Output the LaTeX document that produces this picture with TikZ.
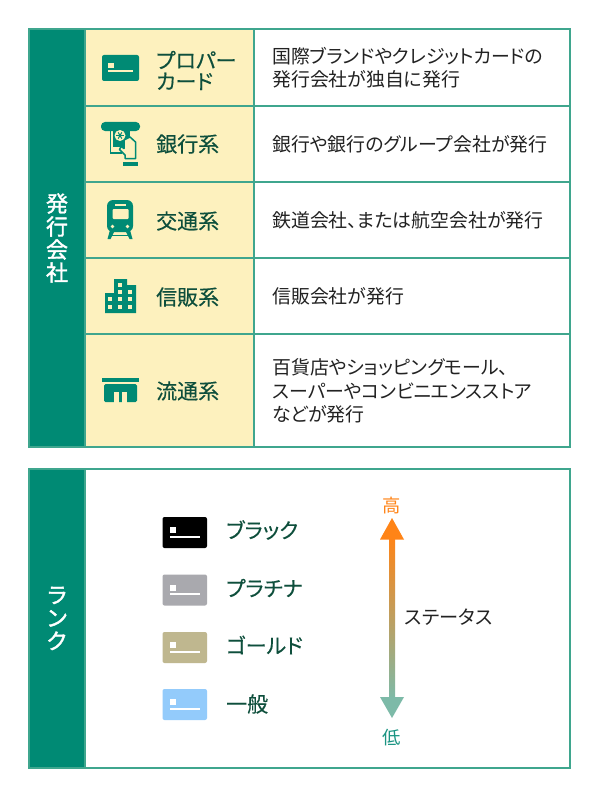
\documentclass[tikz,border=0pt]{standalone}
\usepackage{fontspec}
\setmainfont[RawFeature=+palt]{Noto Sans CJK JP}
\newfontfamily\medfont[FakeBold=0.25, RawFeature=+palt]{Noto Sans CJK JP}
\newfontfamily\bandfont[FakeBold=1.6]{Noto Sans CJK JP}
\usetikzlibrary{positioning, calc, shapes.geometric}
\definecolor{teal1}{HTML}{008A74}
\definecolor{edge1}{HTML}{3FA68E}
\definecolor{cream1}{HTML}{FDF1BE}
\definecolor{ink1}{HTML}{0E4F3C}
\definecolor{ink2}{HTML}{222222}
\definecolor{hi1}{HTML}{FF8417}
\definecolor{lo1}{HTML}{7DBAA8}
\definecolor{lotext}{HTML}{1A9482}
\definecolor{plat1}{HTML}{A9A9AE}
\definecolor{gold1}{HTML}{BFB78F}
\definecolor{norm1}{HTML}{93CBFB}
\tikzset{
	band/.style={fill=teal1, draw=edge1, line width=1.5pt, outer sep=0pt, text=white, minimum width=56pt, inner sep=0pt, align=center, font=\bandfont\fontsize{22}{23}\selectfont},
	kind/.style={fill=cream1, draw=edge1, line width=1.5pt, outer sep=0pt, minimum width=169pt, inner sep=0pt},
	info/.style={fill=white, draw=edge1, line width=1.5pt, outer sep=0pt, minimum width=316pt, inner sep=0pt},
	kindtext/.style={anchor=west, inner sep=0pt, text=ink1, align=left, font=\medfont\fontsize{21}{21}\selectfont},
	infotext/.style={anchor=west, inner sep=0pt, text=ink2, align=left, font=\fontsize{18.9}{23.5}\selectfont},
	icon/.style={fill=teal1, draw=none},
	hole/.style={fill=cream1, draw=none},
}
\newcommand{\plastic}[3]{% x, y, colour
	\fill[#3, rounded corners=2pt] (#1,#2) rectangle ++(44.5,31);
	\fill[white] (#1+7.5,#2+10) rectangle ++(6,6);
	\fill[white] (#1+7.5,#2+18.6) rectangle ++(29.5,1.9);
}
\begin{document}
\begin{tikzpicture}[x=1pt, y=-1pt]
	\useasboundingbox (0,0) rectangle (600,797);
	% issuers
	\node[kind, minimum height=77pt] (kindA) at (169.5,67.5) {};
	\node[kind, minimum height=76pt] (kindB) at (169.5,144) {};
	\node[kind, minimum height=76pt] (kindC) at (169.5,220) {};
	\node[kind, minimum height=76pt] (kindD) at (169.5,296) {};
	\node[kind, minimum height=113pt] (kindE) at (169.5,390.5) {};
	\node[info, minimum height=77pt, right=0pt of kindA] (infoA) {};
	\node[info, minimum height=76pt, right=0pt of kindB] (infoB) {};
	\node[info, minimum height=76pt, right=0pt of kindC] (infoC) {};
	\node[info, minimum height=76pt, right=0pt of kindD] (infoD) {};
	\node[info, minimum height=113pt, right=0pt of kindE] (infoE) {};
	\node[band, minimum height=418pt] (bandA) at (57,238) {発\\行\\会\\社};
	\node[kindtext] (nameA) at (156,70.5) {プロパー\\カード};
	\node[kindtext] (nameB) at (156,144) {銀行系};
	\node[kindtext] (nameC) at (156,221) {交通系};
	\node[kindtext] (nameD) at (156,297) {信販系};
	\node[kindtext] (nameE) at (156,391) {流通系};
	\node[infotext] (textA) at (272,67.8) {国際ブランドやクレジットカードの\\発行会社が独自に発行};
	\node[infotext] (textB) at (272,144.5) {銀行や銀行のグループ会社が発行};
	\node[infotext] (textC) at (272,220.5) {鉄道会社、または航空会社が発行};
	\node[infotext] (textD) at (272,296.5) {信販会社が発行};
	\node[infotext] (textE) at (272,391) {百貨店やショッピングモール、\\スーパーやコンビニエンスストア\\などが発行};
	% card
	\fill[icon, rounded corners=2pt] (102,55) rectangle (139,81);
	\fill[hole] (108,63) rectangle (113.5,68);
	\fill[hole] (108,70.2) rectangle (133,71.9);
	% atm
	\fill[icon, rounded corners=4pt] (101,122) rectangle (140,131);
	\fill[icon] (109.5,128) rectangle (111,153);
	\fill[icon] (109.5,152) rectangle (122,153.5);
	\fill[icon] (113,128) rectangle (130,147);
	\fill[hole] (120,135.5) circle (5.5pt);
	\foreach \turn in {0,60,120}
		\draw[teal1, line width=1pt] (120,135.5) ++(\turn:3.6) -- ++(\turn+180:7.2);
	\filldraw[fill=cream1, draw=teal1, line width=1.5pt, line join=round] (124,140) -- (130,137) -- (135.5,142) -- (135.5,158.5) -- (125,158.5) -- (125,155) -- (119.5,149.5) -- (121,146.5) -- (124,148.5) -- cycle;
	\fill[icon] (123,162) rectangle (138,166);
	% train
	\fill[icon, rounded corners=6pt] (107,200) rectangle (133,232);
	\fill[hole, rounded corners=1pt] (112.5,209) rectangle (128.5,219);
	\fill[hole] (115,204.3) rectangle (126,205.7);
	\fill[hole] (112.5,226.5) circle (1.8pt);
	\fill[hole] (127.5,226.5) circle (1.8pt);
	\fill[icon] (110,230) -- (115,230) -- (110.5,239) -- (107.5,239) -- cycle;
	\fill[icon] (130,230) -- (125,230) -- (129.5,239) -- (132.5,239) -- cycle;
	\fill[icon] (112,234.5) rectangle (128,236);
	% building
	\fill[icon] (105,313) -- (105,293) -- (114,293) -- (114,279) -- (127,279) -- (127,285) -- (136,285) -- (136,313) -- cycle;
	\foreach \px/\py in {120/285, 120/292, 130/292, 110/299, 120/299, 130/299, 110/307, 120/307, 130/307}
		\fill[hole] (\px-1.6,\py-1.6) rectangle ++(3.2,3.2);
	% shop
	\fill[icon] (102,378) rectangle (139,382);
	\fill[icon, rounded corners=1.5pt] (104,384) rectangle (137,402);
	\fill[hole] (114,392) rectangle (119,403);
	\fill[hole] (122,392) rectangle (127,403);
	% rank
	\node[fill=white, draw=edge1, line width=1.5pt, outer sep=0pt, minimum width=485pt, minimum height=299pt, inner sep=0pt] (rankbox) at (327.5,618.5) {};
	\node[band, minimum height=299pt] (bandB) at (57,618.5) {ラ\\ン\\ク};
	\plastic{162.5}{517}{black}
	\plastic{162.5}{574.5}{plat1}
	\plastic{162.5}{632}{gold1}
	\plastic{162.5}{689}{norm1}
	\node[kindtext] (blackname) at (226,530) {ブラック};
	\node[kindtext] (platname) at (226,588) {プラチナ};
	\node[kindtext] (goldname) at (226,645) {ゴールド};
	\node[kindtext] (normname) at (226,704) {一般};
	% status arrow
	\shade[top color=hi1, bottom color=lo1] (389,537) rectangle (395,699);
	\fill[hi1] (392,518) -- (404,539.5) -- (380,539.5) -- cycle;
	\fill[lo1] (392,718) -- (404,697) -- (380,697) -- cycle;
	\node[inner sep=0pt, text=hi1, font=\fontsize{18.3}{18}\selectfont] (hightext) at (391.5,505.5) {高};
	\node[inner sep=0pt, text=lotext, font=\fontsize{18.3}{18}\selectfont] (lowtext) at (391.5,737.5) {低};
	\node[infotext, font=\fontsize{19.2}{18}\selectfont] (statustext) at (404.5,617) {ステータス};
\end{tikzpicture}
\end{document}
